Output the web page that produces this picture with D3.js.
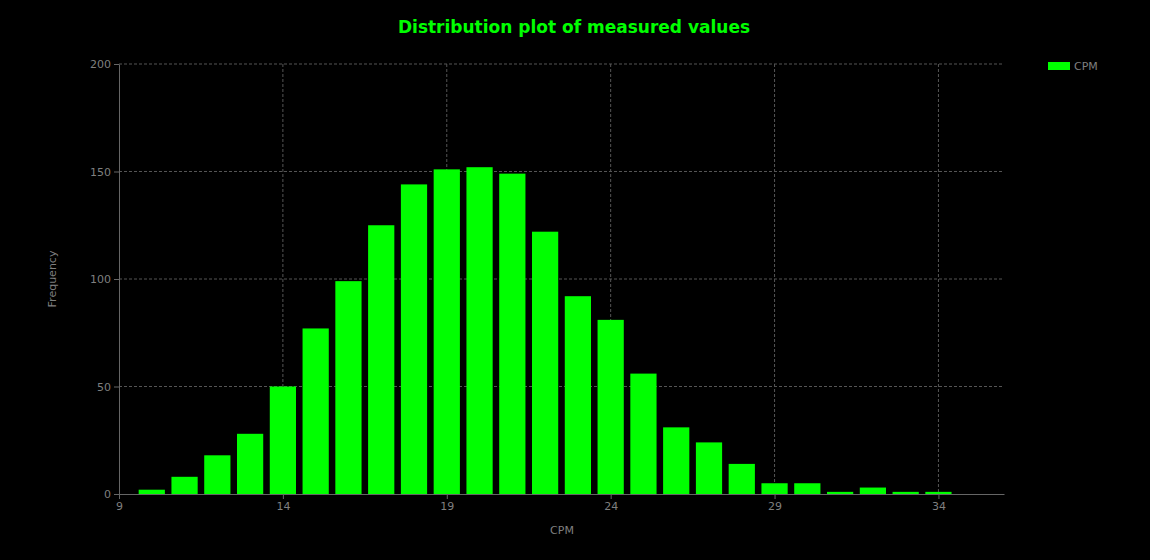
<!DOCTYPE html>
<html><head><meta charset="utf-8">
<script src="https://cdn.jsdelivr.net/npm/d3@7"></script>
<style>body{margin:0;background:#000}</style>
</head><body>
<svg id="c" width="1150" height="560"></svg>
<script>
const bins = [10,11,12,13,14,15,16,17,18,19,20,21,22,23,24,25,26,27,28,29,30,31,32,33,34];
const counts = [2,8,18,28,50,77,99,125,144,151,152,149,122,92,81,56,31,24,14,5,5,1,3,1,1];
const xTicks = [9,14,19,24,29,34];
const yTicks = [0,50,100,150,200];

const svg = d3.select("#c");
svg.append("rect").attr("width",1150).attr("height",560).attr("fill","#000");
const L=119,R=1004,T=64,B=494;
const x = d3.scaleLinear().domain([9,36]).range([L,R]);
const y = d3.scaleLinear().domain([0,200]).range([B,T]);
const txt="#7f7f7f", font="Verdana, DejaVu Sans, sans-serif";

// grid
svg.append("g").selectAll("line").data(xTicks.slice(1)).join("line")
  .attr("x1",d=>x(d)).attr("x2",d=>x(d)).attr("y1",T).attr("y2",B)
  .attr("stroke","#555").attr("stroke-dasharray","3,2");
svg.append("g").selectAll("line").data(yTicks.slice(1)).join("line")
  .attr("x1",L).attr("x2",R).attr("y1",d=>y(d)).attr("y2",d=>y(d))
  .attr("stroke","#555").attr("stroke-dasharray","3,2");

// bars
const bw = (x(1)-x(0))*0.8;
svg.append("g").selectAll("rect").data(bins).join("rect")
  .attr("x",(d)=>x(d)-bw/2).attr("width",bw)
  .attr("y",(d,i)=>y(counts[i])).attr("height",(d,i)=>B-y(counts[i]))
  .attr("fill","#00ff00");

// axes
const xa = svg.append("g").attr("transform",`translate(0,${B})`)
  .call(d3.axisBottom(x).tickValues(xTicks).tickSize(5).tickSizeOuter(0));
const ya = svg.append("g").attr("transform",`translate(${L},0)`)
  .call(d3.axisLeft(y).tickValues(yTicks).tickSize(5).tickSizeOuter(0));
[xa,ya].forEach(a=>{
  a.selectAll("path,line").attr("stroke","#666");
  a.selectAll("text").attr("fill",txt).style("font-family",font).style("font-size","11px");
});

svg.append("text").attr("x",574).attr("y",33).attr("text-anchor","middle")
  .attr("fill","#00ff00").style("font-family",font).style("font-size","17px").style("font-weight","bold")
  .text("Distribution plot of measured values");
svg.append("text").attr("x",562).attr("y",534).attr("text-anchor","middle")
  .attr("fill",txt).style("font-family",font).style("font-size","11px").text("CPM");
svg.append("text").attr("transform","translate(56,279) rotate(-90)").attr("text-anchor","middle")
  .attr("fill",txt).style("font-family",font).style("font-size","11px").text("Frequency");

svg.append("rect").attr("x",1048).attr("y",62).attr("width",22).attr("height",8).attr("fill","#00ff00");
svg.append("text").attr("x",1074).attr("y",70).attr("fill",txt)
  .style("font-family",font).style("font-size","11px").text("CPM");
</script>
</body></html>
